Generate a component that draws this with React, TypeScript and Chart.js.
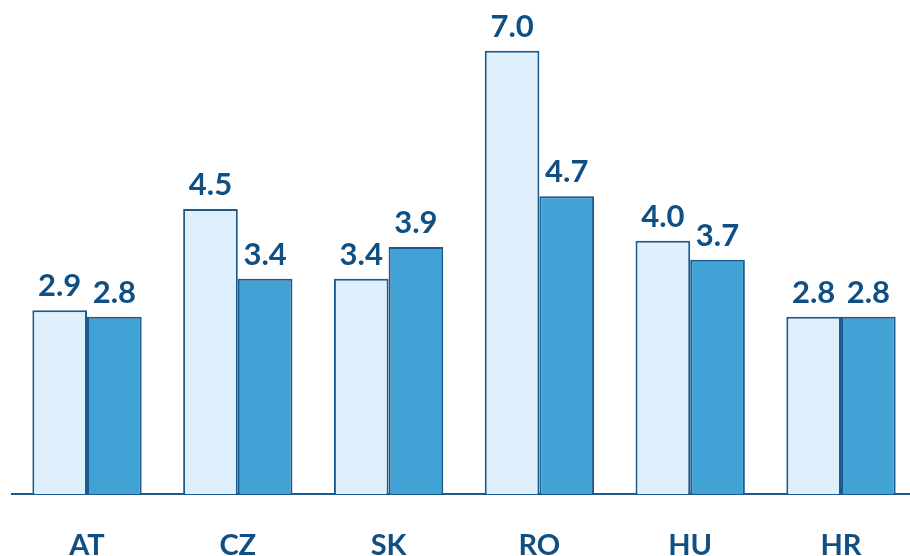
import React, { useEffect, useRef } from "react";
import { Chart, registerables } from "chart.js";

Chart.register(...registerables);

const categories = ["AT", "CZ", "SK", "RO", "HU", "HR"];
const seriesA = [2.9, 4.5, 3.4, 7.0, 4.0, 2.8];
const seriesB = [2.8, 3.4, 3.9, 4.7, 3.7, 2.8];

const TEXT = "#0F4F84";
const BORDER = "#1B5A8D";
const FONT = "Lato, 'Open Sans', sans-serif";

const valueLabels = {
  id: "valueLabels",
  afterDatasetsDraw(chart: any) {
    const ctx = chart.ctx;
    ctx.save();
    ctx.fillStyle = TEXT;
    ctx.font = `bold 31px ${FONT}`;
    ctx.textAlign = "center";
    ctx.textBaseline = "alphabetic";
    chart.data.datasets.forEach((ds: any, i: number) => {
      const meta = chart.getDatasetMeta(i);
      meta.data.forEach((el: any, j: number) => {
        ctx.fillText(Number(ds.data[j]).toFixed(1), el.x, el.y - 14);
      });
    });
    ctx.restore();
  },
};

export default function App() {
  const ref = useRef<HTMLCanvasElement>(null);
  useEffect(() => {
    if (!ref.current) return;
    const chart = new Chart(ref.current, {
      type: "bar",
      data: {
        labels: categories,
        datasets: [
          {
            label: "A",
            data: seriesA,
            backgroundColor: "#DFF0FC",
            borderColor: BORDER,
            borderWidth: 2,
            borderSkipped: "bottom",
          },
          {
            label: "B",
            data: seriesB,
            backgroundColor: "#41A2D6",
            borderColor: BORDER,
            borderWidth: 2,
            borderSkipped: "bottom",
          },
        ],
      },
      options: {
        animation: false,
        responsive: false,
        maintainAspectRatio: false,
        layout: { padding: { left: 11.6, right: 3.6, top: 0, bottom: 0 } },
        plugins: { legend: { display: false }, tooltip: { enabled: false } },
        datasets: { bar: { categoryPercentage: 0.725, barPercentage: 1 } },
        scales: {
          x: {
            grid: { display: false, drawTicks: false },
            border: { display: true, color: BORDER, width: 2 },
            ticks: {
              color: TEXT,
              font: { family: FONT, size: 29, weight: "bold" },
              padding: 34,
              maxRotation: 0,
            },
            afterFit: (scale: any) => {
              scale.height = 62;
            },
          },
          y: {
            display: false,
            min: 0,
            max: 7.8,
          },
        },
      },
      plugins: [valueLabels],
    });
    return () => chart.destroy();
  }, []);
  return (
    <div
      style={{
        position: "fixed",
        left: 0,
        top: 0,
        width: 910,
        height: 556,
        overflow: "hidden",
        background: "#fff",
      }}
    >
      <canvas ref={ref} width={920} height={556} style={{ display: "block", width: 920, height: 556 }} />
    </div>
  );
}
